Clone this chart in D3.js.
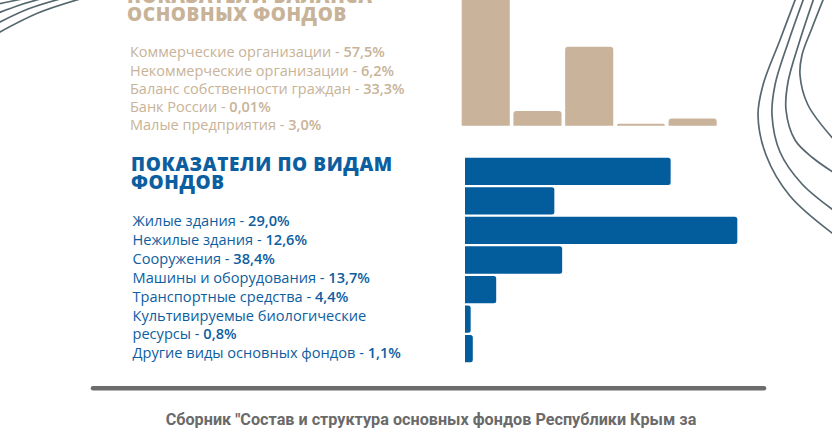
<!DOCTYPE html>
<html><head><meta charset="utf-8">
<script src="https://cdn.jsdelivr.net/npm/d3@7"></script>
<style>html,body{margin:0;padding:0;background:#fff;overflow:hidden}</style>
</head><body>
<svg id="c" width="832" height="432"></svg>
<script>
const balanceTitle = ["ПОКАЗАТЕЛИ БАЛАНСА", "ОСНОВНЫХ ФОНДОВ"];
const balanceCategories = ["Коммерческие организации", "Некоммерческие организации", "Баланс собственности граждан", "Банк России", "Малые предприятия"];
const balanceValues = [57.5, 6.2, 33.3, 0.01, 3.0];
const balanceLabels = ["57,5%", "6,2%", "33,3%", "0,01%", "3,0%"];

const fundTitle = ["ПОКАЗАТЕЛИ ПО ВИДАМ", "ФОНДОВ"];
const fundCategories = ["Жилые здания", "Нежилые здания", "Сооружения", "Машины и оборудования", "Транспортные средства", "Культивируемые биологические ресурсы", "Другие виды основных фондов"];
const fundValues = [29.0, 12.6, 38.4, 13.7, 4.4, 0.8, 1.1];
const fundLabels = ["29,0%", "12,6%", "38,4%", "13,7%", "4,4%", "0,8%", "1,1%"];

const sourceText = "Сборник \"Состав и структура основных фондов Республики Крым за";

const svg = d3.select("#c");
const BEIGE = "#c9b49b", BEIGE_T = "#c8b398", BLUE = "#035d9c", BLUE_T = "#0d5e9f", DECO = "#56676f";
const FONT = "'Open Sans', 'Noto Sans', sans-serif";

// decorative curves
const deco = svg.append("g").attr("fill", "none").attr("stroke", DECO).attr("stroke-width", 1.7);
const cr = d3.line().curve(d3.curveCatmullRom.alpha(0.5));
const rightCurves = [
  [[797,-5],[780,40],[763,85],[758,115],[766,155],[790,196],[836,236]],
  [[805,-5],[789,40],[775,85],[772,115],[780,152],[802,184],[836,212]],
  [[815,-5],[800,40],[788,82],[786,110],[795,140],[813,158],[836,174]],
  [[825,-5],[812,28],[802,55],[800,75],[808,105],[836,142]]
];
rightCurves.forEach(p => deco.append("path").attr("d", cr(p)));
const leftCurves = [
  [[-2,4],[10,1.5],[22,-1]],
  [[-2,13],[20,5],[40,-1]],
  [[-2,23],[28,9],[60,-1]],
  [[-2,33],[38,13],[80,-1]]
];
leftCurves.forEach(p => deco.append("path").attr("d", cr(p)));

// ---- Beige section ----
const tb = svg.append("text").attr("font-family", FONT).attr("font-weight", 800)
  .attr("font-size", 19).attr("fill", BEIGE_T).attr("letter-spacing", 0.6);
balanceTitle.forEach((t, i) => tb.append("tspan").attr("x", 127).attr("y", 2.7 + i * 18).text(t));

const lb = svg.append("g").attr("font-family", FONT).attr("font-size", 14.5).attr("fill", BEIGE_T);
balanceCategories.forEach((c, i) => {
  const t = lb.append("text").attr("x", 130).attr("y", 57.3 + i * 18.2);
  t.append("tspan").text(c + " - ");
  t.append("tspan").attr("font-weight", 600).text(balanceLabels[i]);
});

const xb = d3.scaleBand().domain(balanceCategories).range([461.7, 716.7]).paddingInner(0.07).paddingOuter(0);
const yb = d3.scaleLinear().domain([0, 60]).range([125.7, -16.6]);
function topRounded(x, y, w, h, r) {
  r = Math.min(r, h, w / 2);
  const p = d3.path();
  p.moveTo(x, y + h);
  p.lineTo(x, y + r);
  p.quadraticCurveTo(x, y, x + r, y);
  p.lineTo(x + w - r, y);
  p.quadraticCurveTo(x + w, y, x + w, y + r);
  p.lineTo(x + w, y + h);
  p.closePath();
  return p.toString();
}
svg.append("g").selectAll("path").data(balanceValues).join("path")
  .attr("fill", BEIGE)
  .attr("d", (v, i) => {
    const h = Math.max(yb(0) - yb(v), 2);
    return topRounded(xb(balanceCategories[i]), yb(0) - h, xb.bandwidth(), h, 3);
  });

// ---- Blue section ----
const tf = svg.append("text").attr("font-family", FONT).attr("font-weight", 800)
  .attr("font-size", 19).attr("fill", BLUE_T).attr("letter-spacing", 0.6);
fundTitle.forEach((t, i) => tf.append("tspan").attr("x", 131).attr("y", 171 + i * 17.5).text(t));

const lf = svg.append("g").attr("font-family", FONT).attr("font-size", 14.6).attr("fill", BLUE_T);
let line = 0;
const maxW = 300;
fundCategories.forEach((c, i) => {
  const probe = lf.append("text").attr("x", 132.5).text(c + " - " + fundLabels[i]);
  const wide = probe.node().getComputedTextLength() > maxW;
  probe.remove();
  let first = c, rest = null;
  if (wide) {
    const words = c.split(" ");
    rest = words.pop();
    first = words.join(" ");
  }
  if (rest !== null) {
    lf.append("text").attr("x", 132.5).attr("y", 226 + line * 18.9).text(first);
    line++;
    const t = lf.append("text").attr("x", 132.5).attr("y", 226 + line * 18.9);
    t.append("tspan").text(rest + " - ");
    t.append("tspan").attr("font-weight", 600).text(fundLabels[i]);
  } else {
    const t = lf.append("text").attr("x", 132.5).attr("y", 226 + line * 18.9);
    t.append("tspan").text(c + " - ");
    t.append("tspan").attr("font-weight", 600).text(fundLabels[i]);
  }
  line++;
});

const yf = d3.scaleBand().domain(fundCategories).range([157.7, 362.3]).paddingInner(0.075).paddingOuter(0);
const xf = d3.scaleLinear().domain([0, 38.4]).range([465, 737.3]);
function rightRounded(x, y, w, h, r) {
  r = Math.min(r, w / 2, h / 2);
  const p = d3.path();
  p.moveTo(x, y);
  p.lineTo(x + w - r, y);
  p.quadraticCurveTo(x + w, y, x + w, y + r);
  p.lineTo(x + w, y + h - r);
  p.quadraticCurveTo(x + w, y + h, x + w - r, y + h);
  p.lineTo(x, y + h);
  p.closePath();
  return p.toString();
}
svg.append("g").selectAll("path").data(fundValues).join("path")
  .attr("fill", BLUE)
  .attr("d", (v, i) => rightRounded(xf(0), yf(fundCategories[i]), xf(v) - xf(0), yf.bandwidth(), 2.5));

// separator
svg.append("line").attr("x1", 93).attr("x2", 764).attr("y1", 388.3).attr("y2", 388.3)
  .attr("stroke", "#6c6c6c").attr("stroke-width", 4.5).attr("stroke-linecap", "round");

// source
svg.append("text").attr("x", 431).attr("y", 425).attr("text-anchor", "middle")
  .attr("font-family", "Roboto, 'Open Sans', sans-serif")
  .attr("font-weight", 700).attr("font-size", 16.2).attr("fill", "#6a6a6a").text(sourceText);
</script>
</body></html>
